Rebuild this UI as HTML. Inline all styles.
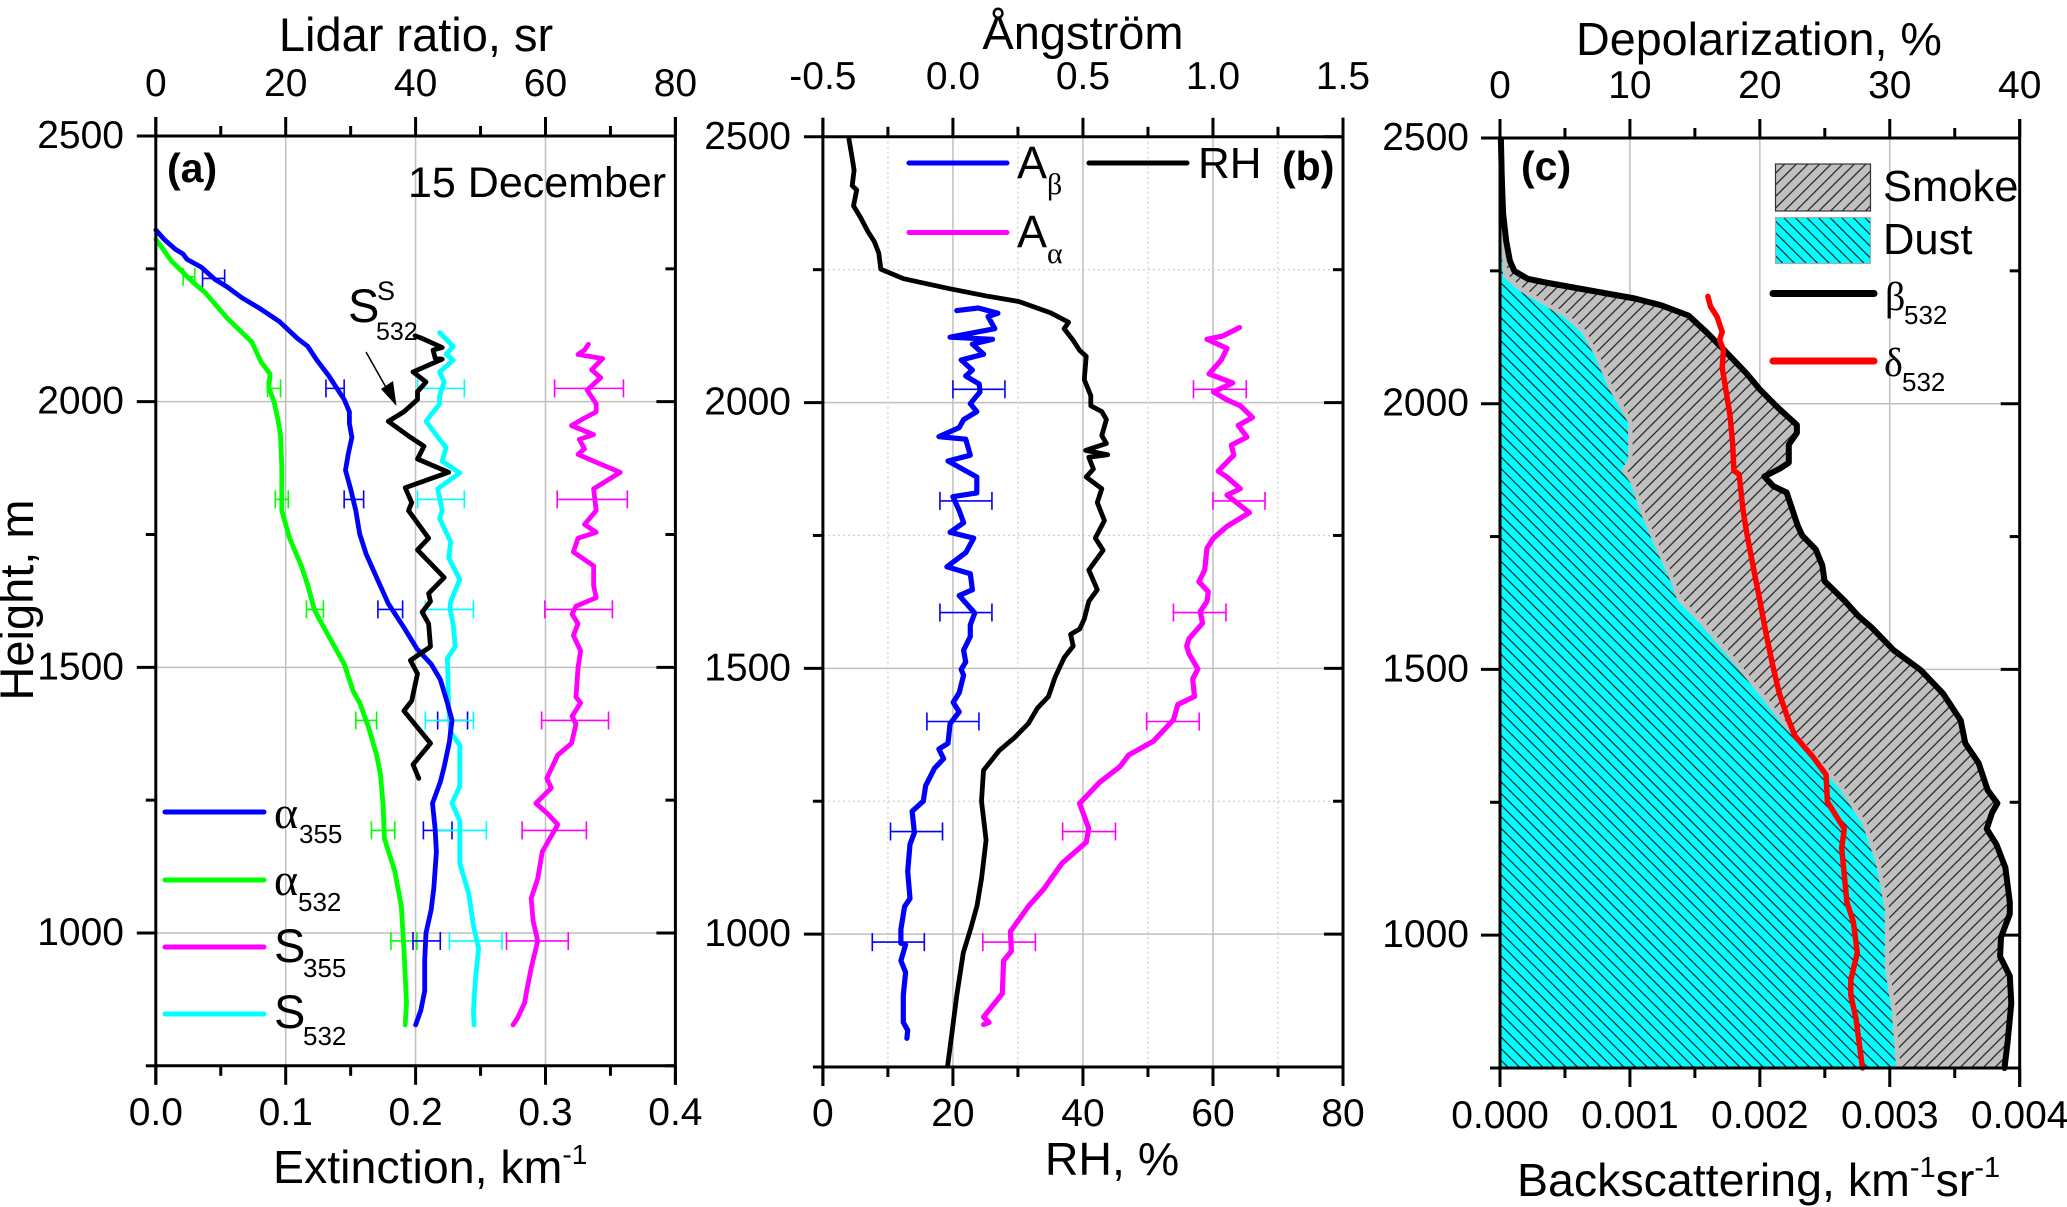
<!DOCTYPE html>
<html lang="en">
<head>
<meta charset="utf-8">
<title>Lidar profiles, 15 December</title>
<style>
html,body{margin:0;padding:0;background:#fff;width:2067px;height:1207px;overflow:hidden}
svg{display:block}
text{font-family:"Liberation Sans",Arial,sans-serif;fill:#000}
.sym{font-family:"Liberation Serif","DejaVu Serif",serif}
</style>
</head>
<body>
<svg id="chart" xmlns="http://www.w3.org/2000/svg" width="2067" height="1207" viewBox="0 0 2067 1207">
<defs>
<pattern id="hatch-smoke" patternUnits="userSpaceOnUse" width="11.6" height="11.6">
<rect width="11.6" height="11.6" fill="#c0c0c0"/>
<path d="M-2.9 2.9L2.9 -2.9M-2.9 14.5L14.5 -2.9M8.7 14.5L14.5 8.7" stroke="#1a1a1a" stroke-width="1.15"/>
</pattern>
<pattern id="hatch-dust" patternUnits="userSpaceOnUse" width="11.6" height="11.6">
<rect width="11.6" height="11.6" fill="#00ffff"/>
<path d="M-2.9 8.7L2.9 14.5M-2.9 -2.9L14.5 14.5M8.7 -2.9L14.5 2.9" stroke="#1a1a1a" stroke-width="1.15"/>
</pattern>
<clipPath id="clip-panel-c"><rect x="1500" y="138" width="520" height="930"/></clipPath>
</defs>
<g id="layer-grid"></g>
<g id="layer-data"></g>
<g id="layer-axes"></g>

<!-- Panel a titles -->
<text x="416" y="51" font-size="47" text-anchor="middle">Lidar ratio, sr</text>
<text x="273" y="1183" font-size="46.5">Extinction, km<tspan font-size="28" dy="-19">-1</tspan></text>
<text transform="translate(33,600) rotate(-90)" font-size="47" text-anchor="middle">Height, m</text>
<text x="167" y="182" font-size="41" font-weight="bold">(a)</text>
<text x="408" y="197" font-size="43">15 December</text>
<text x="348" y="322" font-size="47">S</text>
<text x="377" y="300" font-size="27">S</text>
<text x="376" y="340" font-size="25">532</text>
<path d="M366 352L392 398" stroke="#000" stroke-width="1.5" fill="none"/>
<path d="M396.5 406L381 389L393 381Z" fill="#000"/>
<g>
<line x1="165" x2="264" y1="812" y2="812" stroke="#0000ff" stroke-width="5" stroke-linecap="round"/>
<text class="sym" x="274" y="828" font-size="46">α</text>
<text x="299" y="843" font-size="26">355</text>
<line x1="165" x2="264" y1="880" y2="880" stroke="#00ff00" stroke-width="5" stroke-linecap="round"/>
<text class="sym" x="274" y="895" font-size="46">α</text>
<text x="298" y="911" font-size="26">532</text>
<line x1="165" x2="264" y1="947" y2="947" stroke="#ff00ff" stroke-width="5" stroke-linecap="round"/>
<text x="274" y="962" font-size="47">S</text>
<text x="303" y="977" font-size="26">355</text>
<line x1="165" x2="264" y1="1014" y2="1014" stroke="#00ffff" stroke-width="5" stroke-linecap="round"/>
<text x="274" y="1028" font-size="47">S</text>
<text x="303" y="1045" font-size="26">532</text>
</g>

<!-- Panel b titles -->
<text x="1083" y="49" font-size="47" text-anchor="middle">Ångström</text>
<text x="1112" y="1175" font-size="46.5" text-anchor="middle">RH, %</text>
<text x="1282" y="180" font-size="41" font-weight="bold">(b)</text>
<g>
<line x1="909" x2="1007" y1="163" y2="163" stroke="#0000ff" stroke-width="5" stroke-linecap="round"/>
<text x="1017" y="178" font-size="45">A</text>
<text class="sym" x="1047" y="194" font-size="30">β</text>
<line x1="1089" x2="1187" y1="163" y2="163" stroke="#000" stroke-width="5" stroke-linecap="round"/>
<text x="1198" y="178" font-size="44">RH</text>
<line x1="909" x2="1007" y1="232.5" y2="232.5" stroke="#ff00ff" stroke-width="5" stroke-linecap="round"/>
<text x="1017" y="247" font-size="45">A</text>
<text class="sym" x="1047" y="263" font-size="30">α</text>
</g>

<!-- Panel c titles -->
<text x="1759" y="55" font-size="46.7" text-anchor="middle">Depolarization, %</text>
<text x="1517" y="1196" font-size="46.5">Backscattering, km<tspan font-size="29" dy="-19">-1</tspan><tspan dy="19">sr</tspan><tspan font-size="29" dy="-19">-1</tspan></text>
<text x="1521" y="180" font-size="41" font-weight="bold">(c)</text>
<g>
<rect x="1775.5" y="164" width="95" height="47" fill="url(#hatch-smoke)" stroke="#333" stroke-width="1.2"/>
<text x="1883" y="201" font-size="43.5">Smoke</text>
<rect x="1775.5" y="217.5" width="95" height="46" fill="url(#hatch-dust)" stroke="#aaa" stroke-width="1.2"/>
<text x="1883" y="254" font-size="43.5">Dust</text>
<line x1="1773" x2="1874" y1="293.5" y2="293.5" stroke="#000" stroke-width="7" stroke-linecap="round"/>
<text class="sym" x="1885" y="310" font-size="40">β</text>
<text x="1904" y="324" font-size="26">532</text>
<line x1="1773" x2="1874" y1="361" y2="361" stroke="#ff0000" stroke-width="7" stroke-linecap="round"/>
<text class="sym" x="1884" y="376" font-size="40">δ</text>
<text x="1902" y="391" font-size="26">532</text>
</g>
</svg>

<script>
// ---------- Panel (a): extinction (km-1) ----------
const alpha355Heights = [2323,2304,2287,2278,2268,2253,2231,2216,2196,2174,2151,2119,2104,2078,2049,2004,1981,1959,1933,1900,1871,1836,1795,1751,1713,1669,1620,1575,1535,1506,1477,1437,1400,1360,1313,1284,1244,1196,1153,1084,1044,1000,949,891,854,827];
const alpha355Values = [0,.007,.015,.021,.024,.035,.045,.055,.066,.081,.095,.109,.117,.124,.133,.145,.149,.149,.151,.148,.146,.150,.154,.157,.162,.170,.179,.191,.201,.212,.219,.224,.228,.226,.222,.219,.213,.215,.216,.214,.212,.208,.207,.207,.204,.200];
const alpha532Heights = [2306,2265,2226,2205,2157,2112,2075,2052,2026,2000,1967,1937,1877,1795,1743,1691,1654,1609,1590,1546,1506,1455,1433,1386,1335,1298,1240,1178,1116,1051,971,869,827];
const alpha532Values = [0,.012,.028,.038,.055,.074,.081,.088,.087,.091,.094,.096,.097,.097,.103,.112,.117,.122,.126,.136,.145,.152,.157,.164,.170,.173,.175,.176,.184,.189,.191,.193,.192];
// Lidar ratios (sr)
const s355Heights = [2108,2097,2089,2081,2060,2045,2022,1996,1981,1967,1955,1938,1929,1911,1901,1888,1867,1851,1836,1795,1769,1754,1743,1717,1691,1654,1631,1615,1600,1582,1560,1531,1499,1444,1433,1408,1393,1357,1335,1291,1273,1244,1226,1204,1153,1102,1065,1022,985,934,891,869,840,827];
const s355Values = [66.6,66.0,65.0,68.8,67.1,68.5,66.4,67.8,67.8,65.7,64.0,67.4,65.2,66.0,65.0,67.4,71.5,69.4,67.4,67.8,66.0,67.8,65.0,64.3,67.4,67.4,67.8,64.7,64.1,65.0,64.3,65.4,65.0,64.7,65.4,64.1,64.7,64.0,61.9,60.2,60.9,58.5,60.2,61.9,59.5,58.8,57.8,58.1,58.8,57.8,57.1,56.8,55.7,55.0];
const s532Heights = [2130,2104,2089,2078,2056,2037,2011,1996,1963,1929,1914,1888,1866,1836,1795,1780,1736,1706,1665,1624,1611,1579,1539,1517,1422,1378,1353,1276,1244,1211,1131,1073,1014,971,912,854,827];
const s532Values = [43.7,45.8,44.7,45.8,43.7,44.4,43.7,43.7,41.6,43.7,44.7,44.1,46.8,43.4,44.1,43.7,45.4,45.1,46.8,45.4,45.3,45.8,46.1,44.9,45.1,45.4,46.8,46.8,45.6,46.8,46.8,48.2,48.9,49.7,49.2,48.9,49.0];
const sSmokeHeights = [2124,2119,2102,2097,2082,2080,2056,2037,2019,2004,1981,1963,1933,1916,1892,1867,1838,1810,1795,1743,1721,1669,1639,1624,1604,1582,1539,1513,1488,1437,1418,1357,1317,1291];
const sSmokeValues = [39.9,41.0,44.1,42.7,43.0,44.1,39.6,41.6,40.3,40.3,38.2,35.8,39.2,41.3,40.3,45.1,38.4,39.4,38.9,42.0,40.3,44.4,42.0,42.3,41.0,42.0,42.3,39.2,40.3,39.4,38.2,42.3,39.6,40.5];
// Error bars panel (a)
const alpha532ErrHeights = [2235,2025,1816,1609,1400,1193,985];
const alpha532ErrLow = [.021,.086,.092,.116,.154,.166,.181];
const alpha532ErrHigh = [.030,.096,.102,.129,.170,.184,.201];
const alpha355ErrHeights = [2232,2025,1816,1609,1400,1193,985];
const alpha355ErrLow = [.036,.131,.145,.171,.217,.206,.198];
const alpha355ErrHigh = [.053,.145,.160,.190,.240,.228,.219];
const s532ErrHeights = [2025,1816,1609,1400,1193,985];
const s532ErrLow = [40.3,40.3,41.5,41.5,43.2,45.2];
const s532ErrHigh = [47.5,47.5,48.9,48.9,50.9,53.3];
const s355ErrHeights = [2025,1816,1609,1400,1193,985];
const s355ErrLow = [61.4,61.8,59.9,59.4,56.4,54.0];
const s355ErrHigh = [72.0,72.6,70.3,69.7,66.3,63.5];

// ---------- Panel (b): Angstrom and RH ----------
const rhHeights = [2496,2460,2437,2408,2400,2370,2348,2322,2303,2281,2251,2233,2215,2200,2190,2169,2151,2139,2117,2098,2087,2043,2013,1994,1983,1968,1938,1923,1910,1902,1897,1875,1860,1838,1812,1778,1745,1722,1685,1648,1626,1593,1574,1564,1542,1520,1483,1447,1425,1396,1370,1345,1308,1250,1177,1104,1053,1009,965,885,819,753];
const rhValues = [4.0,4.5,4.8,4.5,5.2,4.7,5.8,6.9,7.9,8.6,8.9,12.4,19.2,25.4,30.2,35.0,37.8,37.1,38.5,39.5,40.5,40.2,41.2,41.2,42.9,43.6,42.9,43.6,40.4,43.8,40.9,41.6,40.5,42.9,42.2,43.3,41.9,43.1,40.9,42.2,40.9,40.2,39.5,38.1,38.5,37.1,35.7,34.7,33.0,31.6,29.5,27.1,24.7,24.4,25.1,24.4,23.7,22.7,21.6,20.6,19.9,19.2];
const aBetaHeights = [2173,2178,2168,2162,2139,2123,2119,2110,2091,2080,2061,2050,2035,2020,1998,1983,1968,1953,1936,1931,1901,1890,1860,1830,1823,1797,1774,1756,1745,1718,1691,1678,1648,1637,1604,1582,1560,1534,1512,1498,1487,1454,1436,1418,1396,1359,1348,1330,1312,1279,1250,1231,1191,1169,1118,1067,1052,1009,983,980,950,928,885,834,819,804];
const aBetaValues = [.015,.0975,.173,.135,.161,-.011,.152,.075,.118,.032,.075,.049,.101,.104,.067,.092,.041,.024,-.054,.049,.067,-.019,.092,.092,.0,.024,.041,-.011,.08,.05,-.023,.067,.075,.024,.084,.067,.067,.041,.049,.032,.041,.024,.001,.024,-.011,-.019,-.054,-.036,-.071,-.105,-.114,-.157,-.148,-.165,-.174,-.165,-.186,-.2,-.2,-.182,-.2,-.182,-.191,-.191,-.174,-.177];
const aAlphaHeights = [2141,2125,2119,2102,2080,2054,2037,2020,2005,1994,1972,1957,1935,1920,1901,1871,1860,1838,1826,1793,1767,1745,1726,1685,1663,1644,1626,1607,1585,1556,1542,1527,1499,1480,1447,1432,1403,1363,1337,1315,1286,1246,1199,1173,1133,1085,1052,1005,968,950,888,844,834,830];
const aAlphaValues = [1.102,1.037,.977,1.054,1.032,.985,1.076,1.002,1.054,1.105,1.152,1.097,1.131,1.071,1.08,1.02,1.054,1.105,1.054,1.14,1.054,1.002,.977,.968,.946,.982,.977,.951,.96,.908,.899,.908,.942,.922,.929,.865,.848,.771,.676,.642,.565,.487,.522,.513,.419,.35,.29,.221,.225,.195,.19,.118,.139,.118];
const aBetaErrHeights = [2025,1815,1605,1400,1193,985];
const aBetaErrLow = [.0,-.05,-.05,-.1,-.24,-.31];
const aBetaErrHigh = [.2,.15,.15,.1,-.04,-.11];
const aAlphaErrHeights = [2025,1815,1605,1400,1193,985];
const aAlphaErrLow = [.925,1.0,.848,.745,.422,.115];
const aAlphaErrHigh = [1.128,1.2,1.05,.947,.625,.317];

// ---------- Panel (c): backscattering and depolarization ----------
const betaHeights = [2498,2425,2358,2306,2269,2250,2235,2228,2213,2198,2185,2166,2135,2101,2057,2027,1993,1960,1945,1923,1889,1878,1863,1845,1833,1770,1752,1726,1696,1666,1629,1601,1579,1536,1499,1455,1404,1361,1324,1273,1248,1230,1200,1171,1127,1062,1040,996,960,923,872,799,750];
const betaValues = [.000007,.000014,.000024,.000048,.000076,.00011,.000213,.000351,.000694,.001038,.001244,.00145,.001588,.001725,.001897,.002,.002137,.002285,.002285,.002223,.002223,.002155,.002034,.002103,.002206,.002292,.002326,.00243,.002481,.002498,.002653,.002756,.002859,.003031,.003237,.003409,.003546,.003581,.003684,.003753,.003828,.003787,.003746,.003821,.00389,.003924,.003924,.003856,.003849,.003924,.003935,.003907,.003883];
const dustHeights = [2324,2283,2239,2213,2183,2164,2135,2090,2031,1964,1897,1874,1852,1800,1740,1666,1630,1587,1503,1397,1332,1273,1208,1135,1047,938,858,750];
const dustValues = [.000007,.000014,.000024,.000144,.000351,.000488,.000625,.000729,.000832,.000986,.000986,.000935,.001003,.001072,.001175,.001313,.001364,.001536,.001828,.002172,.002412,.002619,.00279,.002893,.002962,.002962,.003014,.003048];
const deltaHeights = [2202,2183,2164,2135,2120,2101,2068,2023,1978,1926,1874,1867,1800,1755,1666,1630,1565,1507,1455,1412,1375,1335,1302,1251,1200,1164,1062,1025,967,916,887,843,750];
const deltaValues = [16.0,16.2,16.7,17.1,16.9,17.2,17.1,17.4,17.7,17.9,18.0,18.4,18.7,19.0,19.7,20.0,20.5,21.0,21.5,22.1,22.7,24.1,25.1,25.2,26.5,26.3,26.7,27.2,27.5,27.0,27.0,27.4,27.9];

// ---------- Tick values and labels ----------
const heightMajorTicks = [2500,2000,1500,1000];
const heightMinorTicks = [2250,1750,1250,750];
const lidarTicks = [0,20,40,60,80];
const lidarMinorTicks = [10,30,50,70];
const lidarTickLabels = ['0','20','40','60','80'];
const extTicks = [0,.1,.2,.3,.4];
const extMinorTicks = [.05,.15,.25,.35];
const extTickLabels = ['0.0','0.1','0.2','0.3','0.4'];
const angTicks = [-.5,0,.5,1,1.5];
const angMinorTicks = [-.25,.25,.75,1.25];
const angTickLabels = ['-0.5','0.0','0.5','1.0','1.5'];
const depolTicks = [0,10,20,30,40];
const depolMinorTicks = [5,15,25,35];
const depolTickLabels = ['0','10','20','30','40'];
const backTicks = [0,.001,.002,.003,.004];
const backMinorTicks = [.0005,.0015,.0025,.0035];
const backTickLabels = ['0.000','0.001','0.002','0.003','0.004'];

// ---------- Scales ----------
const NS = 'http://www.w3.org/2000/svg';
function linear(d0, d1, r0, r1) { return v => r0 + (v - d0) / (d1 - d0) * (r1 - r0); }
function node(parent, tag, attrs) {
  const el = document.createElementNS(NS, tag);
  for (const k in attrs) el.setAttribute(k, attrs[k]);
  parent.appendChild(el);
  return el;
}
const gridLayer = document.getElementById('layer-grid');
const dataLayer = document.getElementById('layer-data');
const axesLayer = document.getElementById('layer-axes');

const yA = linear(750, 2500, 1065.8, 136);
const yB = linear(750, 2500, 1067, 136.8);
const yC = linear(750, 2500, 1068, 138);
const xExt = linear(0, .4, 155.8, 675.4);
const xLidar = linear(0, 80, 155.8, 675.4);
const xAng = linear(-.5, 1.5, 822.9, 1343);
const xRH = linear(0, 80, 822.9, 1343);
const xBack = linear(0, .004, 1500, 2019.7);
const xDepol = linear(0, 40, 1500, 2019.7);

function curvePoints(values, heights, xs, ys) {
  return values.map((v, i) => xs(v).toFixed(1) + ',' + ys(heights[i]).toFixed(1)).join(' ');
}
function drawCurve(values, heights, xs, ys, color, width, name) {
  const el = node(dataLayer, 'polyline', {points: curvePoints(values, heights, xs, ys), fill: 'none', stroke: color, 'stroke-width': width, 'stroke-linejoin': 'round', 'stroke-linecap': 'round'});
  
  
  return el;
}
function drawArea(values, heights, xs, ys, fill, name) {
  const pts = curvePoints(values, heights, xs, ys);
  const top = xs(0).toFixed(1) + ',' + ys(heights[0]).toFixed(1);
  const bottom = xs(0).toFixed(1) + ',' + ys(heights[heights.length - 1]).toFixed(1);
  const el = node(dataLayer, 'polygon', {points: top + ' ' + pts + ' ' + bottom, fill: fill, stroke: 'none'});
  
  
}
function drawErrors(lows, highs, heights, xs, ys, color, name) {
  const g = node(dataLayer, 'g', {stroke: color, 'stroke-width': 1.6, fill: 'none'});
  
  
  heights.forEach((h, i) => {
    const y = ys(h), x0 = xs(lows[i]), x1 = xs(highs[i]);
    const p = node(g, 'path', {d: 'M' + x0 + ' ' + (y - 9) + 'V' + (y + 9) + 'M' + x0 + ' ' + y + 'H' + x1 + 'M' + x1 + ' ' + (y - 9) + 'V' + (y + 9)});
    
    
  });
}
function axisLine(x1, y1, x2, y2, width) {
  const el = node(axesLayer, 'line', {x1: x1, y1: y1, x2: x2, y2: y2, stroke: '#000', 'stroke-width': width});
  
  
}
function axisText(x, y, str, anchor) {
  const el = node(axesLayer, 'text', {x: x, y: y, 'font-size': 39, 'text-anchor': anchor});
  el.textContent = str;
  
  
}
function gridLine(x1, y1, x2, y2, dotted) {
  const el = node(gridLayer, 'line', {x1: x1, y1: y1, x2: x2, y2: y2, stroke: dotted ? '#cfcfcf' : '#c0c0c0', 'stroke-width': dotted ? 1.3 : 1.5});
  if (dotted) el.setAttribute('stroke-dasharray', '2 3');
  
  
}
function drawPanel(o) {
  const L = o.xTop(o.topTicks[0]), R = o.xTop(o.topTicks[o.topTicks.length - 1]);
  const T = o.y(2500), B = o.y(750);
  // grid
  o.topTicks.slice(1, -1).forEach(v => gridLine(o.xTop(v), T, o.xTop(v), B, false));
  heightMajorTicks.slice(1).forEach(h => gridLine(L, o.y(h), R, o.y(h), false));
  if (o.minorGrid) {
    o.topMinor.forEach(v => gridLine(o.xTop(v), T, o.xTop(v), B, true));
    heightMinorTicks.slice(0, 3).forEach(h => gridLine(L, o.y(h), R, o.y(h), true));
  }
  // frame
  axisLine(L, T, R, T, 3);
  axisLine(L, B, R, B, 3);
  axisLine(L, T - 19, L, B + 19, 3);
  axisLine(R, T - 19, R, B + 19, 3);
  // top axis
  o.topTicks.forEach((v, i) => {
    axisLine(o.xTop(v), T - 19, o.xTop(v), T, 3);
    if (o.topLabels[i]) axisText(o.xTop(v), o.topY, o.topLabels[i], 'middle');
  });
  o.topMinor.forEach(v => axisLine(o.xTop(v), T - 10, o.xTop(v), T, 3));
  // bottom axis
  o.botTicks.forEach((v, i) => {
    axisLine(o.xBot(v), B, o.xBot(v), B + 19, 3);
    axisText(o.xBot(v), o.botY, o.botLabels[i], 'middle');
  });
  o.botMinor.forEach(v => axisLine(o.xBot(v), B, o.xBot(v), B + 10, 3));
  // height axis
  heightMajorTicks.forEach(h => {
    axisLine(L - 19, o.y(h), L, o.y(h), 3);
    axisLine(R - 19, o.y(h), R, o.y(h), 3);
    axisText(o.labelX, o.y(h) + 12, String(h), 'end');
  });
  heightMinorTicks.forEach(h => {
    axisLine(L - 10, o.y(h), L, o.y(h), 3);
    axisLine(R - 10, o.y(h), R, o.y(h), 3);
  });
}

drawPanel({y: yA, xTop: xLidar, xBot: xExt, topTicks: lidarTicks, topMinor: lidarMinorTicks, topLabels: lidarTickLabels, botTicks: extTicks, botMinor: extMinorTicks, botLabels: extTickLabels, topY: 96, botY: 1125, labelX: 124, minorGrid: false});
drawPanel({y: yB, xTop: xRH, xBot: xRH, topTicks: lidarTicks, topMinor: lidarMinorTicks, topLabels: [], botTicks: lidarTicks, botMinor: lidarMinorTicks, botLabels: lidarTickLabels, topY: -50, botY: 1126, labelX: 791, minorGrid: true});
drawPanel({y: yC, xTop: xDepol, xBot: xBack, topTicks: depolTicks, topMinor: depolMinorTicks, topLabels: depolTickLabels, botTicks: backTicks, botMinor: backMinorTicks, botLabels: backTickLabels, topY: 98, botY: 1128, labelX: 1469, minorGrid: false});
// Angstrom tick labels sit on top of panel (b)
angTicks.forEach((v, i) => axisText(xAng(v), 89, angTickLabels[i], 'middle'));

// Panel (a) series
drawErrors(alpha532ErrLow, alpha532ErrHigh, alpha532ErrHeights, xExt, yA, '#00ff00', 'alpha532-error');
drawErrors(alpha355ErrLow, alpha355ErrHigh, alpha355ErrHeights, xExt, yA, '#0000ff', 'alpha355-error');
drawErrors(s532ErrLow, s532ErrHigh, s532ErrHeights, xLidar, yA, '#00ffff', 's532-error');
drawErrors(s355ErrLow, s355ErrHigh, s355ErrHeights, xLidar, yA, '#ff00ff', 's355-error');
drawCurve(alpha532Values, alpha532Heights, xExt, yA, '#00ff00', 4.8, 'alpha532-line');
drawCurve(s532Values, s532Heights, xLidar, yA, '#00ffff', 4.8, 's532-line');
drawCurve(alpha355Values, alpha355Heights, xExt, yA, '#0000ff', 4.8, 'alpha355-line');
drawCurve(s355Values, s355Heights, xLidar, yA, '#ff00ff', 4.8, 's355-line');
drawCurve(sSmokeValues, sSmokeHeights, xLidar, yA, '#000000', 4.8, 'smoke-lidar-ratio-line');

// Panel (b) series
drawErrors(aBetaErrLow, aBetaErrHigh, aBetaErrHeights, xAng, yB, '#0000ff', 'a-beta-error');
drawErrors(aAlphaErrLow, aAlphaErrHigh, aAlphaErrHeights, xAng, yB, '#ff00ff', 'a-alpha-error');
drawCurve(rhValues, rhHeights, xRH, yB, '#000000', 4.8, 'rh-line');
drawCurve(aBetaValues, aBetaHeights, xAng, yB, '#0000ff', 5.2, 'a-beta-line');
drawCurve(aAlphaValues, aAlphaHeights, xAng, yB, '#ff00ff', 5.2, 'a-alpha-line');

// Panel (c) series
drawArea(betaValues, betaHeights, xBack, yC, 'url(#hatch-smoke)', 'smoke-area');
drawCurve(dustValues, dustHeights, xBack, yC, '#c0c0c0', 9, 'dust-edge-band').setAttribute('clip-path', 'url(#clip-panel-c)');
drawArea(dustValues, dustHeights, xBack, yC, 'url(#hatch-dust)', 'dust-area');
drawCurve(betaValues, betaHeights, xBack, yC, '#000000', 6, 'beta532-line');
drawCurve(deltaValues, deltaHeights, xDepol, yC, '#ff0000', 5.5, 'delta532-line');
</script>
</body>
</html>
